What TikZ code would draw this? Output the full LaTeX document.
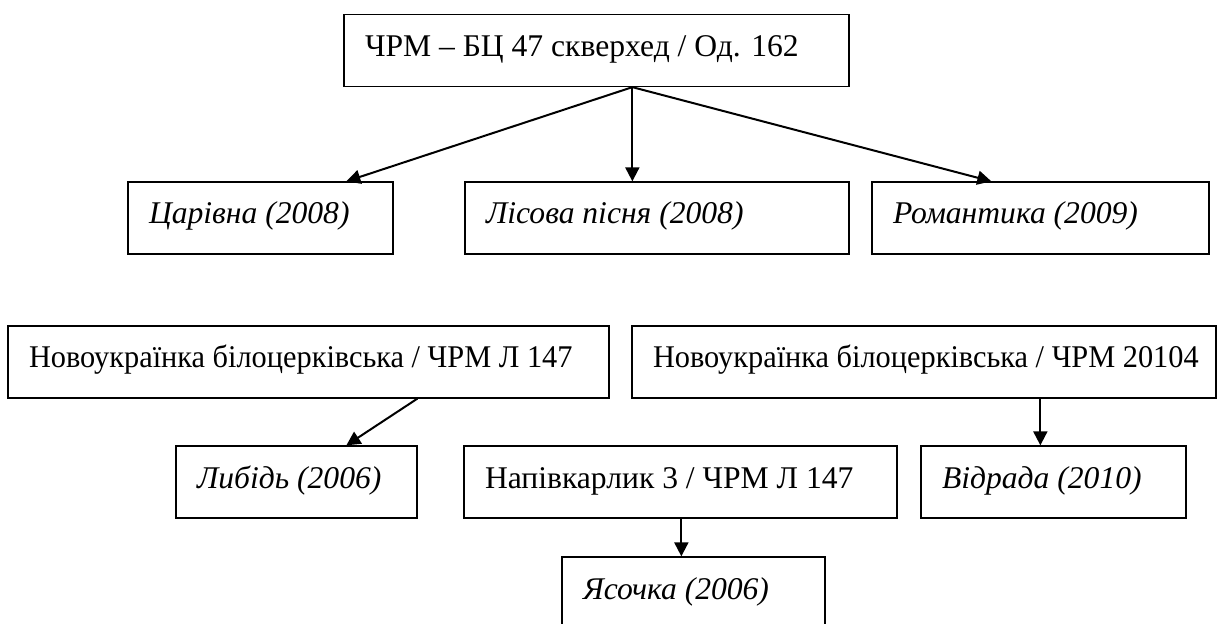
\documentclass[tikz,border=0pt]{standalone}
\usepackage{fontspec}
\setmainfont{Liberation Serif}
\usetikzlibrary{arrows.meta,calc}
\tikzset{
  box/.style={draw, line width=0.65pt, rectangle, anchor=center, inner xsep=10.5pt, inner ysep=0pt,
    text height=21pt, text depth=15pt, font=\fontsize{15.8pt}{19pt}\selectfont},
  ibox/.style={box, font=\fontsize{15.8pt}{19pt}\selectfont\itshape},
  arr/.style={line width=1pt, -{Triangle[length=7pt,width=7pt]}}
}
\newcommand{\lbox}[2]{\makebox[#1pt][l]{#2}}
\newcommand{\narrow}[1]{\scalebox{0.96}[1]{#1}}
\begin{document}
\begin{tikzpicture}[x=0.5pt,y=-0.5pt]
\useasboundingbox (0,0) rectangle (1224,624);
\clip (0,0) rectangle (1224,624);
% boxes
\node[box] (top) at (596.5,50.5) {\lbox{231.5}{ЧРМ – БЦ 47 скверхед / Од. 162}};
\node[ibox] (car) at (260.5,218) {\lbox{111.5}{Царівна (2008)}};
\node[ibox] (lis) at (657,218) {\lbox{171}{Лісова пісня (2008)}};
\node[ibox] (rom) at (1040.5,218) {\lbox{147.5}{Романтика (2009)}};
\node[box] (n1) at (308.5,362) {\lbox{279.5}{\narrow{Новоукраїнка білоцерківська / ЧРМ Л 147}}};
\node[box] (n2) at (924,362) {\lbox{271}{\narrow{Новоукраїнка білоцерківська / ЧРМ 20104}}};
\node[ibox] (lyb) at (296.5,482) {\lbox{99.5}{Либідь (2006)}};
\node[box] (nap) at (680.5,482) {\lbox{195.5}{Напівкарлик 3 / ЧРМ Л 147}};
\node[ibox] (vid) at (1053.5,482) {\lbox{111.5}{Відрада (2010)}};
\node[ibox] (yas) at (693.5,593) {\lbox{110.5}{Ясочка (2006)}};
% connector end points
\coordinate (o) at ($(top.south west)+(289,0)$);
\coordinate (tcar) at ($(car.north west)+(219,0)$);
\coordinate (tlis) at ($(lis.north west)+(168,0)$);
\coordinate (trom) at ($(rom.north west)+(120,0)$);
\coordinate (on1) at ($(n1.south west)+(410,0)$);
\coordinate (tlyb) at ($(lyb.north west)+(171,0)$);
\coordinate (on2) at ($(n2.south west)+(409,0)$);
\coordinate (tvid) at ($(vid.north west)+(120,0)$);
\coordinate (onap) at ($(nap.south west)+(218,0)$);
\coordinate (tyas) at ($(yas.north west)+(120,0)$);
% connectors
\draw[arr] (o) -- (tcar);
\draw[arr] (o) -- (tlis);
\draw[arr] (o) -- (trom);
\draw[arr] (on1) -- (tlyb);
\draw[arr] (on2) -- (tvid);
\draw[arr] (onap) -- (tyas);
\end{tikzpicture}
\end{document}
